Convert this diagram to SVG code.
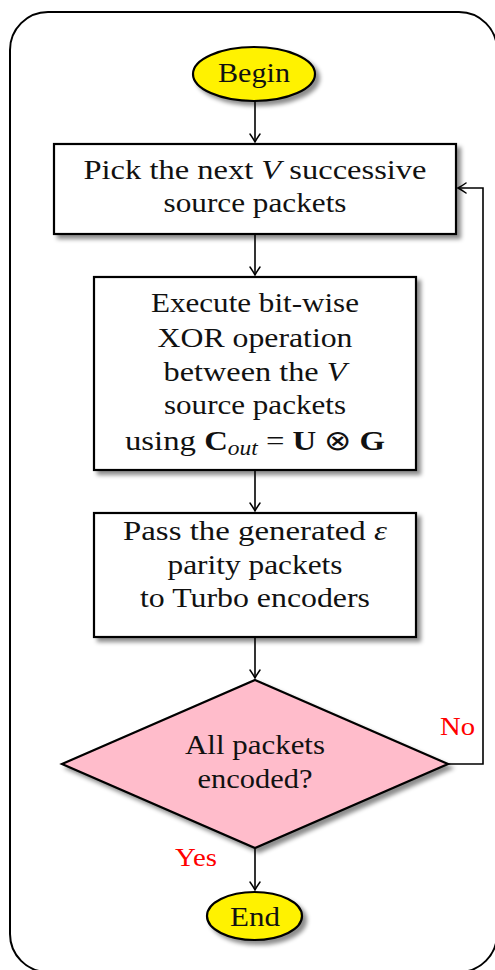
<svg xmlns="http://www.w3.org/2000/svg" width="495" height="970" viewBox="0 0 495 970">
  <style>
    .frame { fill: none; stroke: #000; stroke-width: 2; }
    .box { fill: #fff; stroke: #000; stroke-width: 2.2; }
    .term { fill: #fff200; stroke: #000; stroke-width: 2.2; }
    .dec { fill: #ffbccb; stroke: #000; stroke-width: 2.2; }
    .lbl { font-family: "Liberation Serif", "Times New Roman", serif; font-size: 28px; fill: #111; text-anchor: middle; }
    .red { font-family: "Liberation Serif", "Times New Roman", serif; font-size: 26px; fill: #ff0000; text-anchor: middle; }
    .it { font-style: italic; }
    .bf { font-weight: bold; }
    .edge { fill: none; stroke: #000; stroke-width: 1.6; }
  </style>
  <defs>
    <filter id="shadow" x="-10%" y="-10%" width="130%" height="130%">
      <feGaussianBlur in="SourceAlpha" stdDeviation="2"/>
      <feOffset dx="4" dy="4" result="b"/>
      <feFlood flood-color="#000" flood-opacity="0.45"/>
      <feComposite in2="b" operator="in" result="s"/>
      <feMerge>
        <feMergeNode in="s"/>
        <feMergeNode in="SourceGraphic"/>
      </feMerge>
    </filter>
    <marker id="arrow" viewBox="-9 -6 11 12" markerWidth="11" markerHeight="12" refX="0" refY="0" orient="auto" markerUnits="userSpaceOnUse">
      <path d="M -8,-5 Q -3,-1.5 0,0 Q -3,1.5 -8,5" fill="none" stroke="#000" stroke-width="1.5" stroke-linecap="round"/>
    </marker>
  </defs>

  <!-- outer frame -->
  <rect class="frame" x="10" y="12" width="487" height="960" rx="38" ry="38"/>

  <!-- connectors -->
  <g id="connectors">
    <line class="edge" x1="255" y1="101" x2="255" y2="142" marker-end="url(#arrow)"/>
    <line class="edge" x1="255" y1="235" x2="255" y2="275" marker-end="url(#arrow)"/>
    <line class="edge" x1="255" y1="471" x2="255" y2="511" marker-end="url(#arrow)"/>
    <line class="edge" x1="255" y1="638" x2="255" y2="678" marker-end="url(#arrow)"/>
    <line class="edge" x1="255" y1="849" x2="255" y2="890" marker-end="url(#arrow)"/>
    <polyline class="edge" points="448,764 483,764 483,188 458,188" marker-end="url(#arrow)"/>
    <text class="red" x="457.5" y="735" textLength="35" lengthAdjust="spacingAndGlyphs">No</text>
    <text class="red" x="196" y="866" textLength="42" lengthAdjust="spacingAndGlyphs">Yes</text>
  </g>

  <!-- start terminal -->
  <g id="begin">
    <ellipse class="term" cx="254" cy="74" rx="61" ry="27" filter="url(#shadow)"/>
    <text class="lbl" x="254" y="82" textLength="72" lengthAdjust="spacingAndGlyphs">Begin</text>
  </g>

  <!-- pick packets -->
  <g id="pick">
    <rect class="box" x="54" y="144" width="402" height="90" filter="url(#shadow)"/>
    <text class="lbl" x="255" y="179" textLength="343" lengthAdjust="spacingAndGlyphs">Pick the next <tspan class="it">V</tspan> successive</text>
    <text class="lbl" x="255" y="212" textLength="183" lengthAdjust="spacingAndGlyphs">source packets</text>
  </g>

  <!-- XOR step -->
  <g id="xor">
    <rect class="box" x="94" y="277" width="322" height="193" filter="url(#shadow)"/>
    <text class="lbl" x="255" y="312" textLength="208" lengthAdjust="spacingAndGlyphs">Execute bit-wise</text>
    <text class="lbl" x="255" y="347" textLength="195" lengthAdjust="spacingAndGlyphs">XOR operation</text>
    <text class="lbl" x="255" y="381" textLength="183" lengthAdjust="spacingAndGlyphs">between the <tspan class="it">V</tspan></text>
    <text class="lbl" x="255" y="414" textLength="182" lengthAdjust="spacingAndGlyphs">source packets</text>
    <text class="lbl" x="255" y="450" textLength="260" lengthAdjust="spacingAndGlyphs">using <tspan class="bf">C</tspan><tspan class="it" font-size="20" dy="5">out</tspan><tspan dy="-5"> = </tspan><tspan class="bf">U</tspan> ⊗ <tspan class="bf">G</tspan></text>
  </g>

  <!-- pass to encoders -->
  <g id="pass">
    <rect class="box" x="94" y="513" width="322" height="124" filter="url(#shadow)"/>
    <text class="lbl" x="255" y="540" textLength="264" lengthAdjust="spacingAndGlyphs">Pass the generated <tspan class="it">ε</tspan></text>
    <text class="lbl" x="255" y="574" textLength="175" lengthAdjust="spacingAndGlyphs">parity packets</text>
    <text class="lbl" x="255" y="607" textLength="230" lengthAdjust="spacingAndGlyphs">to Turbo encoders</text>
  </g>

  <!-- decision -->
  <g id="decision">
    <polygon class="dec" points="255,680 448,764 255,848 62,764" filter="url(#shadow)"/>
    <text class="lbl" x="255" y="754" textLength="140" lengthAdjust="spacingAndGlyphs">All packets</text>
    <text class="lbl" x="255" y="788" textLength="115" lengthAdjust="spacingAndGlyphs">encoded?</text>
  </g>

  <!-- end terminal -->
  <g id="end">
    <ellipse class="term" cx="254.5" cy="916" rx="47.5" ry="24" filter="url(#shadow)"/>
    <text class="lbl" x="255" y="926" textLength="50" lengthAdjust="spacingAndGlyphs">End</text>
  </g>
</svg>
